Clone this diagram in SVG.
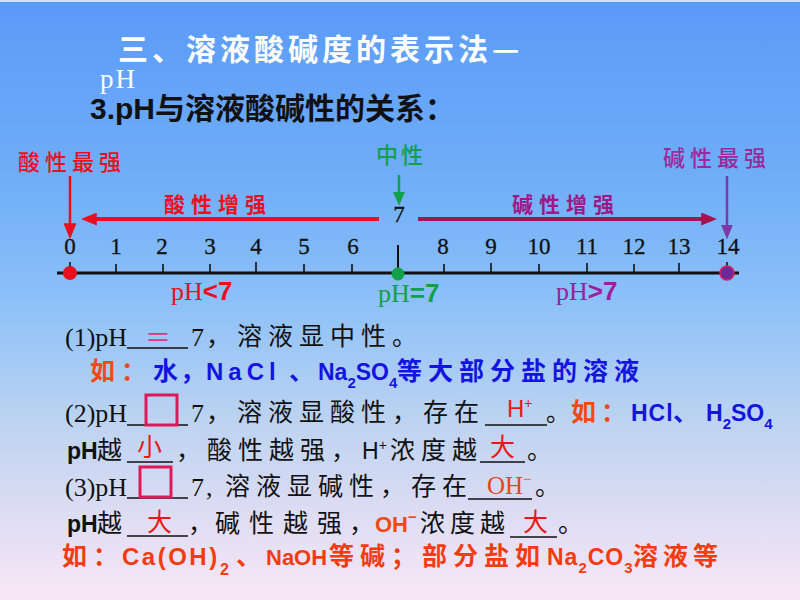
<svg xmlns="http://www.w3.org/2000/svg" width="800" height="600" viewBox="0 0 800 600">
<defs>
<linearGradient id="bg" x1="0" y1="0" x2="0" y2="1">
<stop offset="0" stop-color="#5a9af8"/>
<stop offset="0.3" stop-color="#70aef8"/>
<stop offset="0.5" stop-color="#8cc0f8"/>
<stop offset="0.7" stop-color="#bcd3f1"/>
<stop offset="0.85" stop-color="#dcdcf3"/>
<stop offset="1" stop-color="#f9e7f7"/>
</linearGradient>
<marker id="m-red" viewBox="0 0 10 10" refX="3" refY="5" markerUnits="userSpaceOnUse" markerWidth="16" markerHeight="13" orient="auto" preserveAspectRatio="none"><path d="M0,0 L10,5 L0,10 z" fill="#e8101e"/></marker>
<marker id="m-green" viewBox="0 0 10 10" refX="3" refY="5" markerUnits="userSpaceOnUse" markerWidth="14" markerHeight="12" orient="auto" preserveAspectRatio="none"><path d="M0,0 L10,5 L0,10 z" fill="#12a04a"/></marker>
<marker id="m-purple" viewBox="0 0 10 10" refX="3" refY="5" markerUnits="userSpaceOnUse" markerWidth="15" markerHeight="12" orient="auto" preserveAspectRatio="none"><path d="M0,0 L10,5 L0,10 z" fill="#7b3aa8"/></marker>
<marker id="m-maroon" viewBox="0 0 10 10" refX="3" refY="5" markerUnits="userSpaceOnUse" markerWidth="16" markerHeight="13" orient="auto" preserveAspectRatio="none"><path d="M0,0 L10,5 L0,10 z" fill="#a8124e"/></marker>
</defs>
<style>
.cj{font-family:'Noto Sans CJK SC',sans-serif}
.sf{font-family:'Liberation Serif','Noto Sans CJK SC',serif}
.ss{font-family:'Liberation Sans','Noto Sans CJK SC',sans-serif}
.k{fill:#111}
.ul{stroke:#111;stroke-width:1.5}
.tick{stroke:#111;stroke-width:1.6}
.num{font-family:'Liberation Serif',serif;font-size:23px;fill:#111;text-anchor:middle;stroke:#111;stroke-width:0.3}
.box{fill:none;stroke:#e0185a;stroke-width:3}
.t25{font-size:25px}
.b{font-weight:700}
</style>
<rect width="800" height="600" fill="url(#bg)"/>
<rect width="800" height="2" fill="#d2e2fa"/>

<g id="title">
<text x="118" y="60" class="cj b" font-size="30" fill="#fff" letter-spacing="4">三、溶液酸碱度的表示法—</text>
<text x="100" y="88" class="sf" font-size="27" fill="#fff" letter-spacing="2">pH</text>
<text x="90" y="119" class="k b" font-size="30"><tspan class="ss">3.pH</tspan><tspan class="cj">与溶液酸碱性的关系：</tspan></text>
</g>

<g id="axis">
<line x1="57" y1="273" x2="739" y2="273" stroke="#111" stroke-width="3"/>
<line class="tick" x1="70" y1="262" x2="70" y2="273"/>
<line class="tick" x1="116" y1="264" x2="116" y2="273"/>
<line class="tick" x1="163" y1="264" x2="163" y2="273"/>
<line class="tick" x1="210" y1="264" x2="210" y2="273"/>
<line class="tick" x1="256" y1="262" x2="256" y2="273"/>
<line class="tick" x1="304" y1="264" x2="304" y2="273"/>
<line class="tick" x1="352" y1="264" x2="352" y2="273"/>
<line x1="398" y1="245" x2="398" y2="273" stroke="#111" stroke-width="2"/>
<line class="tick" x1="444" y1="264" x2="444" y2="273"/>
<line class="tick" x1="491" y1="263" x2="491" y2="273"/>
<line class="tick" x1="539" y1="264" x2="539" y2="273"/>
<line class="tick" x1="587" y1="263" x2="587" y2="273"/>
<line class="tick" x1="634" y1="264" x2="634" y2="273"/>
<line class="tick" x1="679" y1="263" x2="679" y2="273"/>
<line class="tick" x1="727" y1="262" x2="727" y2="273"/>
<text class="num" x="70" y="254">0</text>
<text class="num" x="116" y="254">1</text>
<text class="num" x="162" y="254">2</text>
<text class="num" x="210" y="254">3</text>
<text class="num" x="256" y="254">4</text>
<text class="num" x="304" y="254">5</text>
<text class="num" x="353" y="254">6</text>
<text class="num" x="399" y="222">7</text>
<text class="num" x="443" y="254">8</text>
<text class="num" x="491" y="254">9</text>
<text class="num" x="539" y="254">10</text>
<text class="num" x="587" y="254">11</text>
<text class="num" x="634" y="254">12</text>
<text class="num" x="679" y="254">13</text>
<text class="num" x="728" y="254">14</text>
<circle cx="70" cy="273" r="7" fill="#e8101e"/>
<circle cx="398" cy="274" r="6.5" fill="#12a04a"/>
<circle cx="727" cy="273" r="7" fill="#6a2a9a" stroke="#e0205a" stroke-width="1.5"/>
</g>

<g id="connectors">
<line x1="70" y1="176" x2="70" y2="228" stroke="#e8101e" stroke-width="2.5" marker-end="url(#m-red)"/>
<line x1="399" y1="175" x2="399" y2="196" stroke="#12a04a" stroke-width="2.5" marker-end="url(#m-green)"/>
<line x1="727" y1="176" x2="727" y2="229" stroke="#7b3aa8" stroke-width="2.5" marker-end="url(#m-purple)"/>
<line x1="379" y1="219" x2="92" y2="219" stroke="#e8101e" stroke-width="4" marker-end="url(#m-red)"/>
<line x1="418" y1="219" x2="706" y2="219" stroke="#a8124e" stroke-width="4" marker-end="url(#m-maroon)"/>
</g>

<g id="labels">
<text x="18" y="170" class="cj" font-size="22" font-weight="500" fill="#e8101e" letter-spacing="5">酸性最强</text>
<text x="376" y="163" class="cj" font-size="22" font-weight="500" fill="#12a04a" letter-spacing="3">中性</text>
<text x="663" y="166" class="cj" font-size="22" font-weight="500" fill="#9b2a9b" letter-spacing="5">碱性最强</text>
<text x="164" y="212" class="cj b" font-size="21" fill="#e8101e" letter-spacing="6">酸性增强</text>
<text x="512" y="212" class="cj b" font-size="21" fill="#9b1a85" letter-spacing="6">碱性增强</text>
<text x="171" y="300" fill="#e8101e" font-size="26"><tspan class="sf">pH</tspan><tspan class="ss b">&lt;7</tspan></text>
<text x="378" y="302" fill="#12a04a" font-size="26"><tspan class="sf">pH</tspan><tspan class="ss b">=7</tspan></text>
<text x="556" y="300" fill="#9b1f9b" font-size="26"><tspan class="sf">pH</tspan><tspan class="ss b">&gt;7</tspan></text>
</g>

<g id="line1">
<text class="sf k" x="65" y="346" font-size="26">(1)pH</text>
<line class="ul" x1="127" y1="348" x2="188" y2="348"/>
<text class="cj" x="158" y="347" font-size="26" fill="#e8307a" text-anchor="middle">＝</text>
<text class="sf k" x="191" y="346" font-size="26">7</text>
<text class="cj k t25" x="206" y="345" letter-spacing="6">，溶液显中性。</text>
</g>

<g id="line2">
<text class="cj b t25" x="90" y="380" fill="#f04a14" letter-spacing="6">如：</text>
<text class="cj b t25" x="153" y="380" fill="#1414e0">水</text>
<text class="cj b t25" x="180" y="380" fill="#1414e0">，</text>
<text class="ss b" x="206" y="380" font-size="24" fill="#1414e0" letter-spacing="5">NaCl</text>
<text class="cj b t25" x="289" y="380" fill="#1414e0">、</text>
<text class="ss b" x="318" y="380" font-size="23" fill="#1414e0">Na<tspan font-size="15" dy="8">2</tspan><tspan dy="-8">SO</tspan><tspan font-size="15" dy="8">4</tspan></text>
<text class="cj b t25" x="397" y="380" fill="#1414e0" letter-spacing="6">等大部分盐的溶液</text>
</g>

<g id="line3">
<text class="sf k" x="65" y="422" font-size="26">(2)pH</text>
<line class="ul" x1="127" y1="425" x2="188" y2="425"/>
<rect class="box" x="146" y="395" width="31" height="30"/>
<text class="sf k" x="191" y="422" font-size="26">7</text>
<text class="cj k t25" x="206" y="421" letter-spacing="6">，溶液显酸性，存在</text>
<line class="ul" x1="485" y1="425" x2="547" y2="425"/>
<text class="ss" x="507" y="417" font-size="24" fill="#e81818">H<tspan font-size="14" dy="-9">+</tspan></text>
<text class="cj k" x="546" y="421" font-size="24">。</text>
<text class="cj b t25" x="571" y="421" fill="#f04a14" letter-spacing="5">如：</text>
<text class="ss b" x="631" y="421" font-size="23" fill="#1414e0" letter-spacing="1">HCl</text>
<text class="cj b t25" x="673" y="421" fill="#1414e0">、</text>
<text class="ss b" x="706" y="421" font-size="23" fill="#1414e0">H<tspan font-size="15" dy="8">2</tspan><tspan dy="-8">SO</tspan><tspan font-size="15" dy="8">4</tspan></text>
</g>

<g id="line4">
<text class="ss b k" x="67" y="459" font-size="23">pH</text>
<text class="cj k t25" x="97" y="459">越</text>
<line class="ul" x1="127" y1="462" x2="173" y2="462"/>
<text class="cj t25" x="137" y="456" fill="#e81818">小</text>
<text class="cj k t25" x="176" y="459" letter-spacing="6">，酸性越强，</text>
<text class="ss k" x="362" y="459" font-size="23">H<tspan font-size="14" dy="-9">+</tspan></text>
<text class="cj k t25" x="390" y="459" letter-spacing="6">浓度越</text>
<line class="ul" x1="480" y1="462" x2="525" y2="462"/>
<text class="cj t25" x="490" y="456" fill="#e81818">大</text>
<text class="cj k t25" x="527" y="459">。</text>
</g>

<g id="line5">
<text class="sf k" x="65" y="496" font-size="26">(3)pH</text>
<line class="ul" x1="127" y1="498" x2="188" y2="498"/>
<rect class="box" x="140" y="467" width="31" height="30"/>
<text class="sf k" x="191" y="496" font-size="26">7</text>
<text class="sf k" x="206" y="496" font-size="26">,</text>
<text class="cj k t25" x="225" y="495" letter-spacing="6">溶液显碱性，存在</text>
<line class="ul" x1="468" y1="499" x2="532" y2="499"/>
<text class="sf" x="487" y="494" font-size="25" fill="#e8441e">OH<tspan font-size="15" dy="-10">−</tspan></text>
<text class="cj k t25" x="535" y="495">。</text>
</g>

<g id="line6">
<text class="ss b k" x="67" y="532" font-size="23">pH</text>
<text class="cj k t25" x="97" y="532">越</text>
<line class="ul" x1="127" y1="536" x2="188" y2="536"/>
<text class="cj t25" x="147" y="531" fill="#e81818">大</text>
<text class="cj k t25" x="188" y="532">，</text>
<text class="cj k t25" x="215" y="532" letter-spacing="9">碱性越强</text>
<text class="cj k t25" x="349" y="532">，</text>
<text class="ss b" x="375" y="532" font-size="22" fill="#f04a14">OH<tspan font-size="15" dy="-10">−</tspan></text>
<text class="cj k t25" x="420" y="532" letter-spacing="5">浓度越</text>
<line class="ul" x1="510" y1="537" x2="557" y2="537"/>
<text class="cj t25" x="523" y="531" fill="#e81818">大</text>
<text class="cj k t25" x="558" y="532">。</text>
</g>

<g id="line7" fill="#f23c10">
<text class="cj b t25" x="62" y="565" letter-spacing="6">如：</text>
<text class="ss b" x="122" y="565" font-size="24" letter-spacing="2.5">Ca(OH)</text>
<text class="ss b" x="220" y="575" font-size="16">2</text>
<text class="cj b t25" x="236" y="565">、</text>
<text class="ss b" x="266" y="565" font-size="22">NaOH</text>
<text class="cj b t25" x="329" y="565" letter-spacing="6">等碱；部分盐如</text>
<text class="ss b" x="547" y="565" font-size="23" letter-spacing="1">Na<tspan font-size="15" dy="8">2</tspan><tspan dy="-8">CO</tspan><tspan font-size="15" dy="8">3</tspan></text>
<text class="cj b t25" x="633" y="565" letter-spacing="5">溶液等</text>
</g>
</svg>
